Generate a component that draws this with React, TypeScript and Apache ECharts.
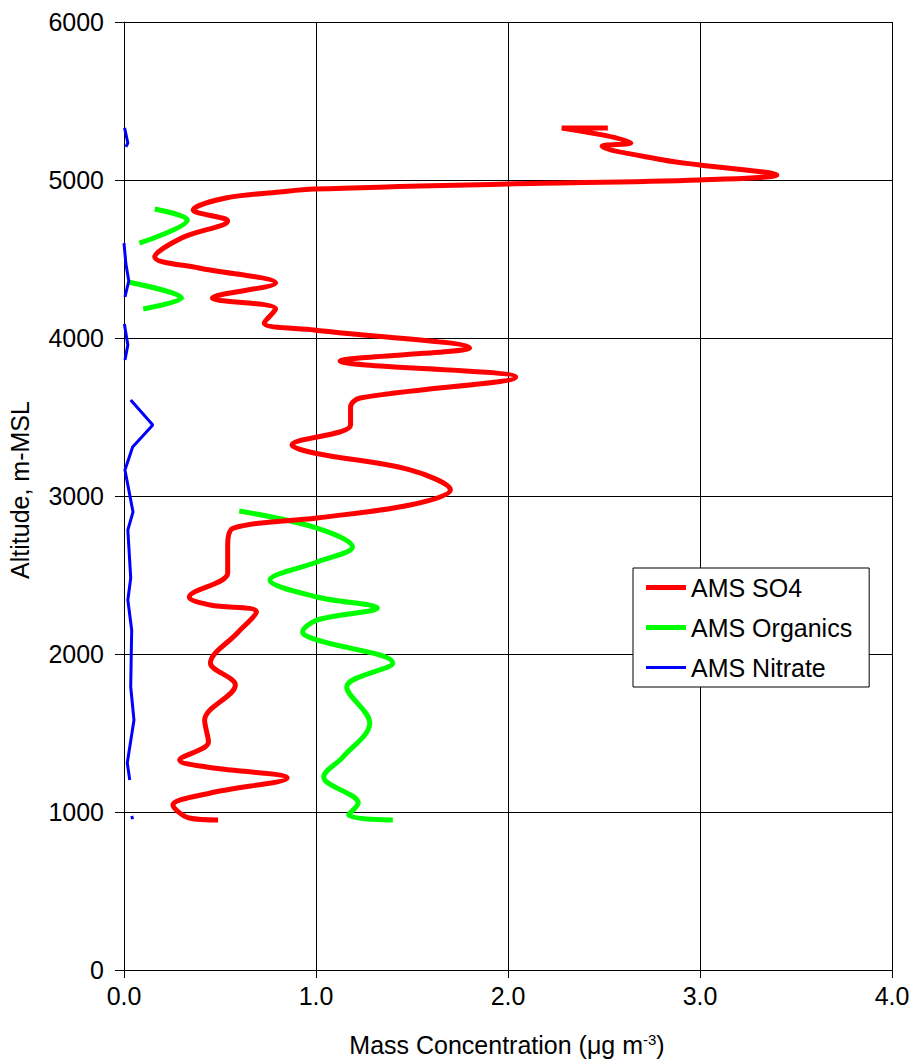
import React, { useEffect, useRef } from "react";
import * as echarts from "echarts";

// [mass concentration (µg m-3), altitude (m-MSL)]
const so4: (number | string)[][] = [
  [2.52, 5329], [2.28, 5329], [2.64, 5234], [2.49, 5215], [2.81, 5127], [3.0, 5095],
  [3.4, 5032], [3.0, 5000], [2.0, 4975], [0.99, 4943], [0.81, 4924], [0.53, 4886],
  [0.36, 4810], [0.54, 4741], [0.3, 4633], [0.16, 4513], [0.39, 4443], [0.79, 4348],
  [0.46, 4253], [0.79, 4184], [0.73, 4095], [0.99, 4051], [1.8, 3937], [1.125, 3854],
  [2.04, 3753], [1.23, 3620], [1.18, 3563], [1.18, 3449], [0.875, 3323], [0.99, 3272],
  [1.49, 3165], [1.7, 3038], [1.49, 2943], [1.005, 2861], [0.57, 2797], [0.54, 2690],
  [0.54, 2513], [0.34, 2361], [0.45, 2310], [0.69, 2266], [0.59, 2133], [0.45, 1943],
  [0.58, 1804], [0.42, 1582], [0.44, 1443], [0.29, 1329], [0.43, 1285], [0.85, 1215],
  [0.45, 1120], [0.255, 1044], [0.34, 962], [0.49, 949],
];

const organics: (number | string)[][] = [
  [0.16, 4816], [0.33, 4747], [0.08, 4601],
  ["-", "-"],
  [0.02, 4354], [0.3, 4253], [0.1, 4184],
  ["-", "-"],
  [0.6, 2905], [1.005, 2797], [1.19, 2677], [1.005, 2582], [0.76, 2468], [1.005, 2361],
  [1.32, 2291], [1.005, 2215], [0.93, 2139], [1.005, 2089], [1.4, 1943], [1.16, 1791],
  [1.28, 1563], [1.14, 1348], [1.04, 1222], [1.22, 1057], [1.17, 981], [1.4, 949],
];

const nitrate: (number | string)[][] = [
  [0.003, 5330], [0.02, 5234], [0.01, 5210],
  ["-", "-"],
  [0.0, 4601], [0.01, 4468], [0.025, 4361], [0.005, 4260],
  ["-", "-"],
  [0.002, 4089], [0.02, 3956], [0.005, 3861],
  ["-", "-"],
  [0.035, 3608], [0.15, 3449], [0.045, 3310], [0.005, 3165], [0.047, 2899], [0.02, 2785],
  [0.035, 2481], [0.02, 2342], [0.04, 2152], [0.035, 1791], [0.052, 1582], [0.017, 1310],
  [0.03, 1203],
  ["-", "-"],
  [0.04, 975], [0.045, 955],
];

const seriesNames = ["AMS SO4", "AMS Organics", "AMS Nitrate"];
const xTicks = [0, 1, 2, 3, 4];
const yTicks = [0, 1000, 2000, 3000, 4000, 5000, 6000];

const FONT = "'Liberation Sans', Arial, sans-serif";

export default function App() {
  const ref = useRef<HTMLDivElement>(null);
  useEffect(() => {
    document.body.style.margin = "0";
    document.body.style.overflow = "hidden";
    if (!ref.current) return;
    const chart = echarts.init(ref.current, undefined, { renderer: "svg" });
    chart.setOption({
      animation: false,
      backgroundColor: "#ffffff",
      textStyle: { fontFamily: FONT },
      grid: { left: 124, right: 22, top: 22, bottom: 92, containLabel: false },
      legend: {
        orient: "vertical",
        left: 633,
        top: 568,
        padding: [7, 17, 7, 13],
        backgroundColor: "#ffffff",
        borderColor: "#000000",
        borderWidth: 1,
        itemWidth: 40,
        itemHeight: 14,
        itemGap: 15,
        symbolKeepAspect: true,
        textStyle: { fontSize: 25, color: "#000", fontFamily: FONT },
        data: [
          { name: seriesNames[0], icon: "path://M0,0H40V5H0Z" },
          { name: seriesNames[1], icon: "path://M0,0H40V5H0Z" },
          { name: seriesNames[2], icon: "path://M0,0H40V3H0Z" },
        ],
      },
      xAxis: {
        type: "value",
        min: xTicks[0],
        max: xTicks[xTicks.length - 1],
        interval: 1,
        axisLine: { show: true, onZero: false, lineStyle: { color: "#000", width: 1 } },
        axisTick: { show: true, length: 8, lineStyle: { color: "#000" } },
        axisLabel: {
          fontSize: 25,
          color: "#000",
          margin: 13,
          fontFamily: FONT,
          formatter: (v: number) => v.toFixed(1),
        },
        splitLine: { show: true, lineStyle: { color: "#000", width: 1 } },
      },
      yAxis: {
        type: "value",
        min: yTicks[0],
        max: yTicks[yTicks.length - 1],
        interval: 1000,
        axisLine: { show: true, onZero: false, lineStyle: { color: "#000", width: 1 } },
        axisTick: { show: true, length: 9, lineStyle: { color: "#000" } },
        axisLabel: {
          fontSize: 25,
          color: "#000",
          margin: 20,
          fontFamily: FONT,
          formatter: (v: number) => String(v),
        },
        splitLine: { show: true, lineStyle: { color: "#000", width: 1 } },
      },
      graphic: [
        {
          type: "text",
          x: 507,
          y: 1045,
          style: {
            text: "{a|Mass Concentration (μg m}{b|-3}{a|)}",
            textAlign: "center",
            textVerticalAlign: "middle",
            rich: {
              a: { fontSize: 25, fontFamily: FONT, fill: "#000", color: "#000" },
              b: { fontSize: 15, fontFamily: FONT, fill: "#000", color: "#000", padding: [0, 0, 12, 0] },
            },
          },
        },
        {
          type: "text",
          x: 20,
          y: 490,
          rotation: Math.PI / 2,
          style: {
            text: "Altitude, m-MSL",
            fontSize: 25,
            fontFamily: FONT,
            fill: "#000",
            textAlign: "center",
            textVerticalAlign: "middle",
          },
        },
      ],
      series: [
        {
          name: seriesNames[0],
          type: "line",
          data: so4,
          smooth: 0.35,
          showSymbol: false,
          symbol: "none",
          lineStyle: { color: "#ff0000", width: 5 },
          itemStyle: { color: "#ff0000" },
          z: 3,
        },
        {
          name: seriesNames[1],
          type: "line",
          data: organics,
          smooth: 0.35,
          connectNulls: false,
          showSymbol: false,
          symbol: "none",
          lineStyle: { color: "#00ff00", width: 5 },
          itemStyle: { color: "#00ff00" },
          z: 2,
        },
        {
          name: seriesNames[2],
          type: "line",
          data: nitrate,
          smooth: false,
          connectNulls: false,
          showSymbol: false,
          symbol: "none",
          lineStyle: { color: "#0000ff", width: 3 },
          itemStyle: { color: "#0000ff" },
          z: 4,
        },
      ],
    });
    return () => chart.dispose();
  }, []);
  return <div ref={ref} style={{ width: 914, height: 1062 }} />;
}
